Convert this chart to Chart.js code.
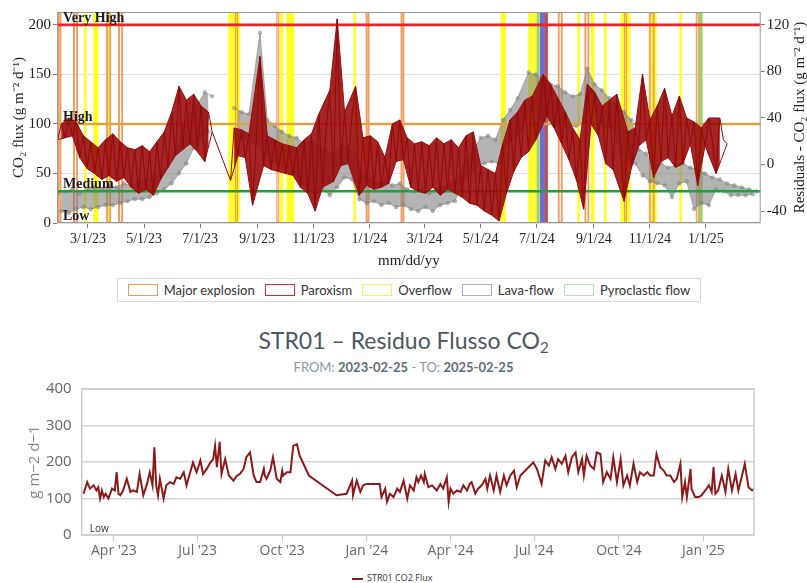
<!DOCTYPE html>
<html><head><meta charset="utf-8">
<script src="https://cdn.jsdelivr.net/npm/chart.js@4.4.1/dist/chart.umd.min.js"></script>
<style>
body{margin:0;background:#fff;}
#wrap{position:relative;width:807px;height:583px;overflow:hidden;background:#fff;}
#lg1{position:absolute;left:117px;top:278px;width:584px;height:24px;border:1px solid #d9d9d9;box-sizing:border-box;display:flex;align-items:center;justify-content:center;font-family:Lato,sans-serif;font-size:13px;color:#333;}
#lg1 .it{display:flex;align-items:center;margin:0 5px;}
#lg1 .bx{display:inline-block;width:30px;height:12px;box-sizing:border-box;border:1.6px solid #999;background:#fff;margin-right:6px;}
#t2{position:absolute;left:0;top:326px;width:807px;text-align:center;font-family:Lato,sans-serif;font-size:23px;line-height:28px;color:#4b5866;}
#t2 sub{font-size:15px;vertical-align:-4px;line-height:0;}
#st2{position:absolute;left:0;top:359px;width:807px;text-align:center;font-family:Lato,sans-serif;font-size:13px;line-height:16px;color:#8a98a6;}
#st2 b{color:#5d6c7b;font-weight:700;}
#lg2{position:absolute;left:352px;top:572px;font-family:"Open Sans",sans-serif;font-size:9px;line-height:12px;color:#333;}
#lg2 .ln{display:inline-block;width:11px;height:2px;background:#8b1a1a;vertical-align:middle;margin-right:4px;}
</style></head><body>
<div id="wrap">
  <canvas id="c1" width="807" height="270" style="position:absolute;left:0;top:0"></canvas>
  <div id="lg1"></div>
  <div id="t2">STR01 – Residuo Flusso CO<sub>2</sub></div>
  <div id="st2">FROM: <b>2023-02-25</b> - TO: <b>2025-02-25</b></div>
  <canvas id="c2" width="807" height="190" style="position:absolute;left:0;top:370px"></canvas>
  <div id="lg2"><span class="ln"></span>STR01 CO2 Flux</div>
</div>
<script>
// ---------- helpers ----------
const BASE = Date.UTC(2023, 0, 1);
const dayOf = s => Math.round((Date.parse(s + 'T00:00:00Z') - BASE) / 86400000);

// ---------- TOP CHART DATA ----------
const topTickDates  = ['2023-03-01','2023-05-01','2023-07-01','2023-09-01','2023-11-01','2024-01-01','2024-03-01','2024-05-01','2024-07-01','2024-09-01','2024-11-01','2025-01-01'];
const topTickLabels = ['3/1/23','5/1/23','7/1/23','9/1/23','11/1/23','1/1/24','3/1/24','5/1/24','7/1/24','9/1/24','11/1/24','1/1/25'];
const leftTicks  = [0, 50, 100, 150, 200];
const rightTicks = [-40, 0, 40, 80, 120];

const seriesStart = '2023-01-27';
const seriesStepDays = 4;

// residual series (dark red), g m-2 d-1
const redValues = [
  84,100,86,106,88,102,66,88,55,82,
  50,76,44,84,48,90,42,82,46,76,
  36,74,30,78,34,72,28,82,44,92,
  56,112,68,138,74,124,80,130,72,118,
  62,112,92,null,null,null,null,43,96,68,
  94,66,90,18,84,168,58,88,54,84,
  52,80,50,78,48,76,36,84,30,90,
  12,110,36,96,134,42,206,58,112,60,
  108,138,28,86,38,88,34,82,36,66,
  40,100,62,104,64,86,36,80,32,82,
  30,78,36,86,28,80,34,84,30,76,
  26,88,20,92,18,58,12,54,8,50,
  2,80,30,104,52,112,66,124,72,128,
  84,112,150,108,140,96,126,80,112,64,
  96,44,84,14,140,100,132,88,118,60,
  124,54,130,80,22,92,56,96,78,150,
  84,104,46,118,62,136,66,108,56,128,
  60,106,80,102,38,96,78,106,82,50,
  106,84,80
];
// CO2 flux series (grey points)
const greyValues = [
  30,12,32,10,34,14,30,16,34,14,
  36,16,34,18,38,18,36,20,40,22,
  38,24,42,24,44,26,48,30,52,34,
  58,40,70,50,96,60,110,76,120,88,
  132,92,128,null,null,null,null,null,116,84,
  112,86,110,82,100,192,70,104,62,98,
  60,92,56,88,52,86,40,80,36,82,
  30,78,34,74,28,70,36,78,46,76,
  44,70,24,46,20,44,22,40,18,42,
  20,38,16,40,18,34,14,32,12,34,
  16,30,12,34,18,36,20,40,22,46,
  40,64,48,74,58,86,60,88,62,84,
  60,104,80,114,86,126,92,118,152,116,
  150,118,146,104,140,98,138,100,132,96,
  128,98,130,100,156,134,140,100,134,98,
  126,96,118,70,112,64,104,60,74,48,
  70,42,58,40,60,38,56,26,58,40,
  60,42,56,14,54,20,50,18,46,34,
  44,32,40,28,38,28,36,28,34,29,32
];

const thresholdLabels = ['Very High', 'High', 'Medium', 'Low'];
const thresholdValues = [200, 100, 32, 0];
const thresholdColors = ['#e8242a', '#dca24a', '#22a13a', null];

// volcanic events: [start day, end day] (days since 2023-01-01)
const explosionEvents = [[26,30],[43,48],[79,84],[92,97],[219,222],[264,267],[361,365],[399,403],[570,575],[599,604],[642,645],[669,675],[720,723]];
const paroxysmEvents  = [[556.7,558.7]];
const overflowEvents  = [[55,57],[65,70],[80,83.5],[212,224],[268,271],[275,283],[348,350],[508,513],[538,542],[543,546.7],[591.5,593.5],[606,609.5],[620.5,622.5],[638.5,648.5],[670.5,677],[702.5,704.5]];
const lavaEvents      = [[550.5,556.5]];
const pyroEvents      = [[547.2,549.4],[723.4,727]];

const legendNames  = ['Major explosion','Paroxism','Overflow','Lava-flow','Pyroclastic flow'];
const legendColors = ['#ee9a5c','#e0262c','#f3f35a','#aeaad4','#b3e3b3'];

const topXMin = 25.3, topXMax = 790.5;
const leftMin = 0, leftMax = 213;
const rightMin = -50.3, rightMax = 131.1;

const rightTitle = 'Residuals - CO\u2082 flux (g m\u207B\u00B2 d\u207B\u00B9)';

// ---------- BOTTOM CHART DATA ----------
const botTickDates  = ['2023-04-01','2023-07-01','2023-10-01','2024-01-01','2024-04-01','2024-07-01','2024-10-01','2025-01-01'];
const botTickLabels = ["Apr '23","Jul '23","Oct '23","Jan '24","Apr '24","Jul '24","Oct '24","Jan '25"];
const botYTicks = [0, 100, 200, 300, 400];
const botFrom = '2023-02-25', botTo = '2025-02-25';
const botDays = [57,61,64,68,71,73,75,77,79,81,84,88,91,93,95,97,100,104,108,111,115,118,122,126,129,132,134,136,138,140,144,147,151,155,158,162,166,169,173,176,180,184,187,191,195,198,200,202,205,207,211,215,220,224,227,231,234,238,242,245,249,251,253,254,256,260,263,267,271,273,274,278,282,285,289,292,302,332,343,349,350,354,358,361,365,379,381,385,387,390,394,398,401,
405,409,412,416,419,421,424,427,428,432,436,441,445,448,452,454,456,459,463,467,470,474,477,479,483,486,490,494,496,499,503,506,510,514,517,521,525,528,532,539,546,550,555,559,563,566,570,573,577,581,584,588,592,595,599,601,604,608,612,615,619,622,626,630,633,637,641,644,648,651,655,659,662,666,670,673,677,680,684,688,691,695,699,702,706,708,711,713,717,718,722,726,729,733,737,740,742,744,747,751,755,758,762,766,769,773,776,780,784,786];
const botVals = [113,145,127,136,122,131,100,122,104,113,100,127,122,172,113,109,122,154,118,122,118,167,109,140,172,136,240,136,109,154,100,136,145,140,158,154,172,136,172,199,172,204,167,181,199,208,244,186,255,167,208,163,149,163,167,181,213,226,163,145,145,163,181,163,154,176,213,154,145,176,163,172,172,244,249,217,163,109,113,149,109,149,118,136,140,140,104,127,91,113,104,127,118,
149,100,136,122,158,145,163,145,167,131,136,122,140,127,158,91,127,113,122,118,136,122,140,145,113,127,136,154,127,163,122,163,118,163,136,163,176,131,163,181,199,181,140,204,190,213,181,208,195,217,172,213,226,172,208,163,217,190,181,226,222,145,172,154,213,145,208,136,163,136,195,145,172,163,172,163,163,222,186,176,163,163,145,154,195,104,145,104,181,127,104,104,109,122,136,118,186,113,122,163,118,181,122,167,122,163,195,131,122,127];

// ---------- TOP LEGEND (HTML) ----------
const lg1 = document.getElementById('lg1');
legendNames.forEach((n, i) => {
  const it = document.createElement('span'); it.className = 'it';
  const bx = document.createElement('span'); bx.className = 'bx'; bx.style.borderColor = legendColors[i];
  it.appendChild(bx); it.appendChild(document.createTextNode(n)); lg1.appendChild(it);
});

// ---------- TOP CHART ----------
const start0 = dayOf(seriesStart);
const toXY = arr => arr.map((v, i) => ({x: start0 + i * seriesStepDays, y: v}));
// upper / lower envelopes of a noisy series (its local peaks and troughs), broken at gaps
function envelopes(arr) {
  const up = [], lo = [];
  arr.forEach((v, i) => {
    const x = start0 + i * seriesStepDays;
    if (v === null) {
      if (up.length && up[up.length - 1].y !== null) { up.push({x, y: null}); lo.push({x, y: null}); }
      return;
    }
    const p = i > 0 ? arr[i - 1] : null, n = i < arr.length - 1 ? arr[i + 1] : null;
    if ((p === null || v >= p) && (n === null || v >= n)) up.push({x, y: v});
    if ((p === null || v <= p) && (n === null || v <= n)) lo.push({x, y: v});
  });
  return {up, lo};
}
const redEnv = envelopes(redValues);
const greyEnv = envelopes(greyValues);

const evData = arr => arr.map(e => ({x: [e[0], e[1]], y: 0.5}));
const evBase = {type: 'bar', indexAxis: 'y', xAxisID: 'x', yAxisID: 'yEv', grouped: false, barPercentage: 1, categoryPercentage: 1, borderSkipped: false};
const tickLabelMap = {};
topTickDates.forEach((d, i) => tickLabelMap[dayOf(d)] = topTickLabels[i]);

const serif = '"Liberation Serif", "Times New Roman", serif';

const topDecor = {
  id: 'topDecor',
  afterDatasetsDraw(chart) {
    const {ctx, chartArea: a, scales} = chart;
    ctx.save();
    ctx.strokeStyle = '#9a9a9a'; ctx.lineWidth = 1;
    ctx.strokeRect(a.left + 0.5, a.top + 0.5, a.right - a.left - 1, a.bottom - a.top - 1);
    ctx.font = 'bold 14px ' + serif;
    ctx.fillStyle = '#1b1b1b';
    ctx.textBaseline = 'alphabetic';
    ctx.textAlign = 'left';
    thresholdLabels.forEach((t, i) => ctx.fillText(t, a.left + 6, scales.y.getPixelForValue(thresholdValues[i]) - 3));
    ctx.restore();
  },
  afterDraw(chart) {
    const {ctx, chartArea: a} = chart;
    ctx.save();
    ctx.translate(800, (a.top + a.bottom) / 2);
    ctx.rotate(-Math.PI / 2);
    ctx.font = '15px ' + serif;
    ctx.fillStyle = '#222';
    ctx.textAlign = 'center';
    ctx.textBaseline = 'middle';
    ctx.fillText(rightTitle, 0, 0);
    ctx.restore();
  }
};

const ds = [];
const RED = '#990c0c';
ds.push({type: 'line', label: 'Residuals', data: toXY(redValues), borderColor: '#900a0a', borderWidth: 1, pointRadius: 0, spanGaps: true, tension: 0, order: 1, yAxisID: 'y'});
const redUpIdx = ds.length;
ds.push({type: 'line', label: 'Residuals upper', data: redEnv.up, borderColor: RED, borderWidth: 1, pointRadius: 0, spanGaps: false, tension: 0, fill: false, order: 1, yAxisID: 'y'});
ds.push({type: 'line', label: 'Residuals lower', data: redEnv.lo, borderColor: RED, borderWidth: 1, pointRadius: 0, spanGaps: false, tension: 0, fill: redUpIdx, backgroundColor: 'rgba(155,12,12,0.9)', order: 1, yAxisID: 'y'});
thresholdValues.forEach((v, i) => {
  if (!thresholdColors[i]) return;
  ds.push({type: 'line', label: thresholdLabels[i], data: [{x: topXMin, y: v}, {x: topXMax, y: v}],
    borderColor: thresholdColors[i], borderWidth: 2.6, pointRadius: 0, order: 2, yAxisID: 'y'});
});
ds.push({type: 'line', label: 'CO2 flux', data: toXY(greyValues), showLine: false, pointRadius: 1.8,
  pointBackgroundColor: 'rgba(140,140,140,0.55)', pointBorderColor: 'rgba(100,100,100,0.55)', pointBorderWidth: 0.6, order: 3, yAxisID: 'y'});
const greyUpIdx = ds.length;
ds.push({type: 'line', label: 'CO2 flux upper', data: greyEnv.up, borderColor: 'rgba(130,130,130,0.6)', borderWidth: 1, pointRadius: 0, spanGaps: false, tension: 0, fill: false, order: 3, yAxisID: 'y'});
ds.push({type: 'line', label: 'CO2 flux lower', data: greyEnv.lo, borderColor: 'rgba(130,130,130,0.6)', borderWidth: 1, pointRadius: 0, spanGaps: false, tension: 0, fill: greyUpIdx, backgroundColor: 'rgba(128,128,128,0.6)', order: 3, yAxisID: 'y'});
ds.push({...evBase, label: 'Major explosion', data: evData(explosionEvents), backgroundColor: 'rgba(0,0,0,0)', borderColor: '#ef9e62', borderWidth: 1.4, order: 9});
ds.push({...evBase, label: 'Paroxism', data: evData(paroxysmEvents), backgroundColor: '#d2452c', borderWidth: 0, order: 10});
ds.push({...evBase, label: 'Pyroclastic flow', data: evData(pyroEvents), backgroundColor: '#9ed36a', borderWidth: 0, order: 11});
ds.push({...evBase, label: 'Lava-flow', data: evData(lavaEvents), backgroundColor: '#6f6fcf', borderWidth: 0, order: 12});
ds.push({...evBase, label: 'Overflow', data: evData(overflowEvents), backgroundColor: '#ffff26', borderWidth: 0, order: 13});

new Chart(document.getElementById('c1'), {
  type: 'line',
  data: {datasets: ds},
  options: {
    responsive: false, animation: false, devicePixelRatio: 1,
    layout: {padding: {top: 12, left: 0, right: 0, bottom: 0}},
    plugins: {legend: {display: false}, tooltip: {enabled: false}, filler: {propagate: false}},
    scales: {
      x: {
        type: 'linear', position: 'bottom', min: topXMin, max: topXMax,
        afterBuildTicks: s => { s.ticks = topTickDates.map(d => ({value: dayOf(d)})); },
        afterFit: s => { s.height = 47; },
        ticks: {autoSkip: false, maxRotation: 0, padding: 3, color: '#222', font: {family: serif, size: 14},
          callback: v => tickLabelMap[v] || ''},
        grid: {drawOnChartArea: false, tickLength: 5, color: '#777'},
        border: {display: false},
        title: {display: true, text: 'mm/dd/yy', color: '#222', font: {family: serif, size: 15}, padding: {top: 0, bottom: 0}}
      },
      y: {
        type: 'linear', position: 'left', min: leftMin, max: leftMax,
        afterBuildTicks: s => { s.ticks = leftTicks.map(v => ({value: v})); },
        afterFit: s => { s.width = 57; },
        ticks: {padding: 2, color: '#222', font: {family: serif, size: 15}},
        grid: {color: '#dedede', tickLength: 4, tickColor: '#777'},
        border: {display: false},
        title: {display: true, text: 'CO\u2082 flux (g m\u207B\u00B2 d\u207B\u00B9)', color: '#222', font: {family: serif, size: 15}, padding: {top: 10, bottom: 0}}
      },
      y1: {
        type: 'linear', position: 'right', min: rightMin, max: rightMax,
        afterBuildTicks: s => { s.ticks = rightTicks.map(v => ({value: v})); },
        afterFit: s => { s.width = 46.3; },
        ticks: {padding: 2, color: '#222', font: {family: serif, size: 15}},
        grid: {drawOnChartArea: false, tickLength: 4, color: '#777'},
        border: {display: false}
      },
      yEv: {
        type: 'linear', axis: 'y', display: false, min: 0, max: 1,
        afterBuildTicks: s => { s.ticks = [{value: 0.5}]; }
      }
    }
  },
  plugins: [topDecor]
});

// ---------- BOTTOM CHART ----------
const sans = '"Open Sans", sans-serif';
const botLabelMap = {};
botTickDates.forEach((d, i) => botLabelMap[dayOf(d)] = botTickLabels[i]);

const botDecor = {
  id: 'botDecor',
  afterDatasetsDraw(chart) {
    const {ctx, chartArea: a, scales} = chart;
    ctx.save();
    ctx.strokeStyle = '#cccccc'; ctx.lineWidth = 1.5;
    ctx.strokeRect(a.left, a.top, a.right - a.left, a.bottom - a.top);
    ctx.font = '10px ' + sans;
    ctx.fillStyle = '#333';
    ctx.textBaseline = 'alphabetic';
    ctx.fillText('Low', a.left + 8, scales.y.getPixelForValue(0) - 3);
    ctx.restore();
  }
};

new Chart(document.getElementById('c2'), {
  type: 'line',
  data: {
    datasets: [{
      label: 'STR01 CO2 Flux',
      data: botDays.map((d, i) => ({x: d, y: botVals[i]})),
      borderColor: '#8b1a1a', borderWidth: 2, pointRadius: 0, tension: 0
    }]
  },
  options: {
    responsive: false, animation: false, devicePixelRatio: 1,
    layout: {padding: {top: 17.7, right: 53, left: 0, bottom: 0}},
    plugins: {legend: {display: false}, tooltip: {enabled: false}},
    scales: {
      x: {
        type: 'linear', min: dayOf(botFrom), max: dayOf(botTo),
        afterBuildTicks: s => { s.ticks = botTickDates.map(d => ({value: dayOf(d)})); },
        afterFit: s => { s.height = 25; },
        ticks: {autoSkip: false, maxRotation: 0, padding: 2, color: '#666', font: {family: sans, size: 14},
          callback: v => botLabelMap[v] || ''},
        grid: {drawOnChartArea: false, tickLength: 6, color: '#c8c8c8'},
        border: {display: false}
      },
      y: {
        type: 'linear', min: 0, max: 400,
        afterBuildTicks: s => { s.ticks = botYTicks.map(v => ({value: v})); },
        afterFit: s => { s.width = 81.7; },
        ticks: {padding: 10, color: '#666', font: {family: sans, size: 15}},
        grid: {color: '#d4d4d4', drawTicks: false, lineWidth: 1.5},
        border: {display: false},
        title: {display: true, text: 'g m\u22122 d\u22121', color: '#888', font: {family: sans, size: 15}, padding: {top: 26, bottom: 0}}
      }
    }
  },
  plugins: [botDecor]
});
</script>
</body></html>
